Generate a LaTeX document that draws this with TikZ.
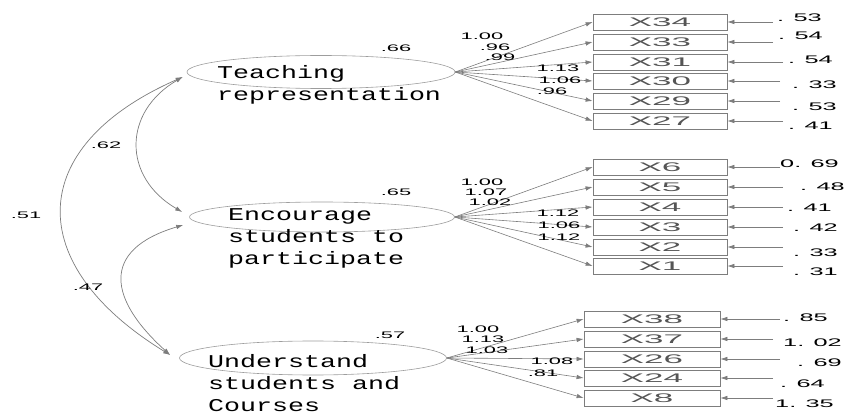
\documentclass[tikz,border=0pt]{standalone}
\usepackage{fontspec}
\usepackage{xcolor}
\usepackage{tikz}
\usetikzlibrary{shapes.geometric, arrows.meta, positioning, calc}
\newfontfamily\lvfont[FakeStretch=1.48]{Liberation Mono}
\newfontfamily\numfont[FakeStretch=2.3]{Liberation Sans}
\newfontfamily\obsfont[FakeStretch=2.8]{Liberation Sans}
\definecolor{pathgray}{RGB}{125,125,125}
\definecolor{boxgray}{RGB}{125,125,125}
\definecolor{obstext}{RGB}{85,85,85}

\tikzset{
    latent/.style={ellipse, draw=pathgray!75, line width=0.6pt, inner sep=0pt},
    lvtext/.style={anchor=north west, align=left, inner sep=0pt,
        font=\lvfont\fontsize{18}{22}\selectfont},
    observed/.style={rectangle, draw=boxgray, line width=0.8pt, minimum height=16pt,
        inner sep=0pt, text=obstext, font=\obsfont\fontsize{12.5}{12.5}\selectfont},
    loadlab/.style={inner sep=0pt, font=\numfont\fontsize{9.5}{9.5}\selectfont},
    errlab/.style={anchor=west, inner sep=0pt, font=\numfont\fontsize{11}{11}\selectfont},
    sempath/.style={draw=pathgray, line width=0.6pt, -{Latex[length=7pt,width=4.5pt]}},
    corpath/.style={draw=pathgray, line width=0.7pt, {Latex[length=7pt,width=4.5pt]}-{Latex[length=7pt,width=4.5pt]}}
}

\begin{document}
\begin{tikzpicture}[x=1pt, y=-1pt]
    \useasboundingbox (0,0) rectangle (852,414);

    % latent variables
    \node[latent, minimum width=268pt, minimum height=33pt] (T) at (321,72) {};
    \node[latent, minimum width=265pt, minimum height=30pt] (E) at (322,217) {};
    \node[latent, minimum width=267pt, minimum height=34pt] (U) at (313,358) {};
    \node[lvtext] (Ttxt) at (217,65) {Teaching\\representation};
    \node[lvtext] (Etxt) at (228,208) {Encourage\\students to\\participate};
    \node[lvtext] (Utxt) at (208,354) {Understand\\students and\\Courses};

    % variances
    \node[loadlab] (vT) at (396,48) {.66};
    \node[loadlab] (vE) at (396,192) {.65};
    \node[loadlab] (vU) at (390,335) {.57};

    % observed variables and error terms
    \foreach \name/\y/\ex/\lab/\lx/\ly in {34/22/773/. 53/777/18, 33/42/773/. 54/778/36,
        31/62/783/. 54/788/60, 30/81/780/. 33/792/85, 29/101/780/. 53/792/107, 27/121/783/. 41/788/126}{
        \node[observed, minimum width=134pt] (X\name) at (660,\y) {X\name};
        \draw[sempath] (T.east) -- (X\name.west);
        \coordinate (u\name) at (\ex,\y);
        \draw[sempath] (u\name) -- (X\name.east);
        \node[errlab] (d\name) at (\lx,\ly) {\lab};
    }
    \foreach \name/\y/\ex/\lab/\lx/\ly in {6/167/780/0. 69/780/164, 5/187/783/. 48/800/187,
        4/207/783/. 41/787/208, 3/227/783/. 42/793/228, 2/247/783/. 33/793/253, 1/266/783/. 31/793/272}{
        \node[observed, minimum width=134pt] (X\name) at (660,\y) {X\name};
        \draw[sempath] (E.east) -- (X\name.west);
        \coordinate (u\name) at (\ex,\y);
        \draw[sempath] (u\name) -- (X\name.east);
        \node[errlab] (d\name) at (\lx,\ly) {\lab};
    }
    \foreach \name/\y/\ex/\lab/\lx/\ly in {38/319/780/. 85/783/318, 37/339/773/1. 02/783/343,
        26/359/780/. 69/797/363, 24/378/773/. 64/780/384, 8/398/773/1. 35/775/404}{
        \node[observed, minimum width=136pt] (X\name) at (652,\y) {X\name};
        \draw[sempath] (U.east) -- (X\name.west);
        \coordinate (u\name) at (\ex,\y);
        \draw[sempath] (u\name) -- (X\name.east);
        \node[errlab] (d\name) at (\lx,\ly) {\lab};
    }

    % loadings
    \node[loadlab] (l34) at (482,36) {1.00};
    \node[loadlab] (l33) at (495,47) {.96};
    \node[loadlab] (l31) at (500,57) {.99};
    \node[loadlab] (l30) at (558,68) {1.13};
    \node[loadlab] (l29) at (560,80) {1.06};
    \node[loadlab] (l27) at (552,91) {.96};
    \node[loadlab] (l6) at (482,182) {1.00};
    \node[loadlab] (l5) at (486,192) {1.07};
    \node[loadlab] (l4) at (490,202) {1.02};
    \node[loadlab] (l3) at (558,213) {1.12};
    \node[loadlab] (l2) at (559,225) {1.06};
    \node[loadlab] (l1) at (559,237) {1.12};
    \node[loadlab] (l38) at (478,329) {1.00};
    \node[loadlab] (l37) at (483,339) {1.13};
    \node[loadlab] (l26) at (487,350) {1.03};
    \node[loadlab] (l24) at (552,361) {1.08};
    \node[loadlab] (l8) at (543,373) {.81};

    % correlations
    \coordinate (tT) at ($(T.west)+(-4,5)$);
    \coordinate (tE1) at ($(E.west)+(-7,-5)$);
    \coordinate (tE2) at ($(E.west)+(-6,8)$);
    \coordinate (tU) at ($(U.west)+(-9,-3)$);
    \draw[corpath] (tT) .. controls +(-60,35) and +(-60,-35) .. (tE1);
    \draw[corpath] (tT) .. controls +(-159,70) and +(-147,-90) .. (tU);
    \draw[corpath] (tE2) .. controls +(-84,25) and +(-61,-55) .. (tU);
    \node[loadlab] (cTE) at (106,145) {.62};
    \node[loadlab] (cTU) at (26,215) {.51};
    \node[loadlab] (cEU) at (88,287) {.47};
\end{tikzpicture}
\end{document}
